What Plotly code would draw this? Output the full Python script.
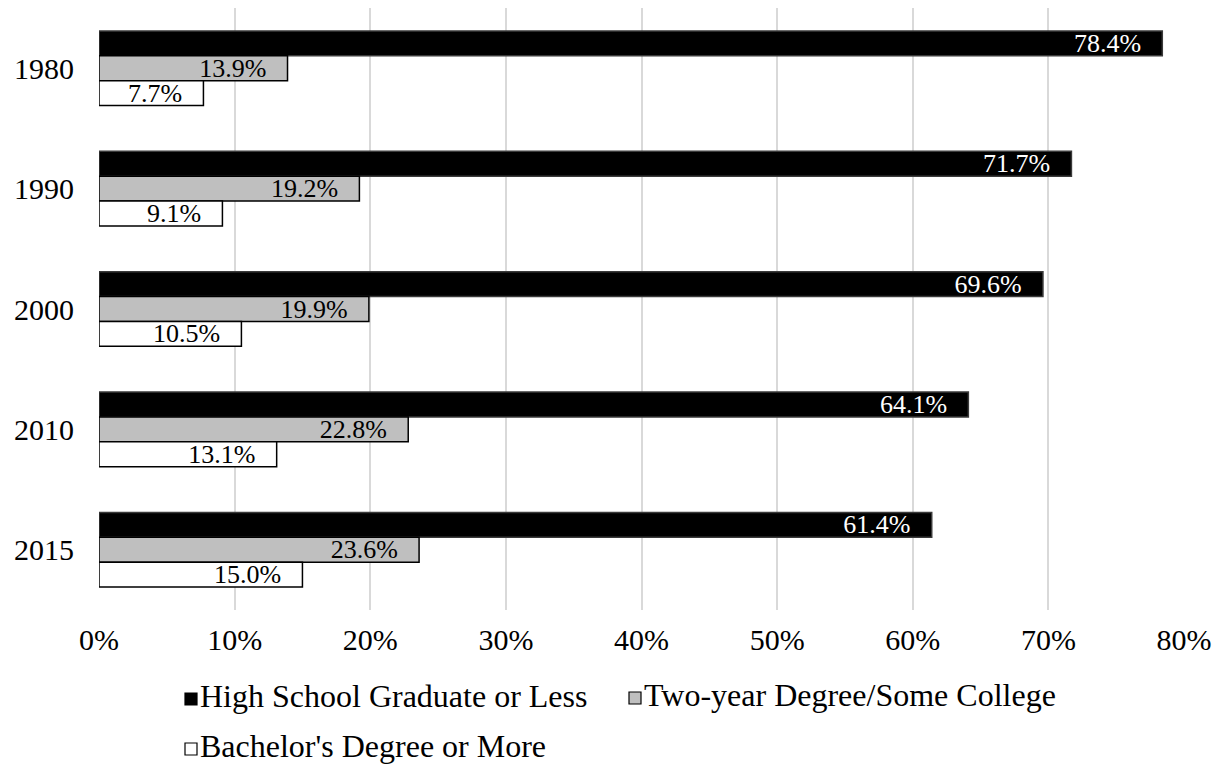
import plotly.graph_objects as go

# Share of workers by educational attainment, by year
years = ["1980", "1990", "2000", "2010", "2015"]
high_school_or_less = [78.4, 71.7, 69.6, 64.1, 61.4]
two_year_some_college = [13.9, 19.2, 19.9, 22.8, 23.6]
bachelors_or_more = [7.7, 9.1, 10.5, 13.1, 15.0]

series_names = [
    "High School Graduate or Less",
    "Two-year Degree/Some College",
    "Bachelor's Degree or More",
]
x_ticks = [0, 10, 20, 30, 40, 50, 60, 70, 80]

FONT = "Liberation Serif, Times New Roman, serif"
W, H = 1220, 766
M_L, M_R, M_T, M_B = 99, 36, 8, 156

styles = [
    dict(fill="#000000", line="#3a3a3a", text="#ffffff"),
    dict(fill="#bfbfbf", line="#000000", text="#000000"),
    dict(fill="#ffffff", line="#000000", text="#000000"),
]

fig = go.Figure()
for name, vals, st in zip(series_names,
                          [high_school_or_less, two_year_some_college, bachelors_or_more],
                          styles):
    fig.add_trace(go.Bar(
        name=name,
        y=years,
        x=vals,
        orientation="h",
        marker=dict(color=st["fill"], line=dict(color=st["line"], width=1.5)),
        texttemplate="%{x:.1f}%\u00a0\u00a0\u2009",
        textposition="inside",
        insidetextanchor="end",
        constraintext="none",
        textangle=0,
        textfont=dict(family=FONT, size=26, color=st["text"]),
        showlegend=False,
        hoverinfo="skip",
    ))

fig.update_layout(
    width=W, height=H,
    margin=dict(l=M_L, r=M_R, t=M_T, b=M_B, pad=0),
    paper_bgcolor="white",
    plot_bgcolor="white",
    barmode="group",
    bargap=0.38,
    bargroupgap=0,
    font=dict(family=FONT, color="#000000"),
)

fig.update_xaxes(
    range=[0, 80],
    tickvals=x_ticks,
    ticktext=[f"{t}%" for t in x_ticks],
    showgrid=True,
    gridcolor="#d9d9d9",
    gridwidth=2,
    zeroline=False,
    showline=False,
    ticks="",
    tickfont=dict(family=FONT, size=30, color="#000000"),
    ticklabelstandoff=9,
)
fig.update_yaxes(
    type="category",
    categoryorder="array",
    categoryarray=years,
    autorange="reversed",
    showgrid=False,
    zeroline=False,
    showline=False,
    ticks="",
    tickfont=dict(family=FONT, size=30, color="#000000"),
    ticklabelstandoff=24,
)

# Legend drawn below the plot: square swatch followed by its label
plot_w = W - M_L - M_R
plot_h = H - M_T - M_B


def px_x(px):
    return (px - M_L) / plot_w


def px_y(py):
    return (H - M_B - py) / plot_h


legend_items = [
    (0, 185, 699),
    (1, 629, 698),
    (2, 185, 749),
]
SW = 12
for idx, lx, ly in legend_items:
    st = styles[idx]
    fig.add_shape(
        type="rect", xref="paper", yref="paper",
        x0=px_x(lx), x1=px_x(lx + SW),
        y0=px_y(ly + SW / 2), y1=px_y(ly - SW / 2),
        fillcolor=st["fill"],
        line=dict(color="#000000", width=1.2),
    )
    fig.add_annotation(
        xref="paper", yref="paper",
        x=px_x(lx + SW + 1), y=px_y(ly - 3),
        xanchor="left", yanchor="middle",
        text=series_names[idx],
        showarrow=False,
        font=dict(family=FONT, size=32, color="#000000"),
    )

fig.write_html("out.html")
